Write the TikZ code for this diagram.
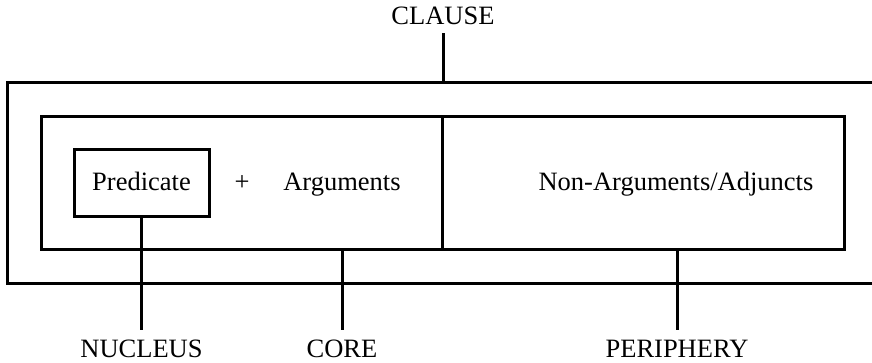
\documentclass[tikz,border=0pt]{standalone}
\usepackage{fontspec}
\setmainfont{Liberation Serif}
\begin{document}
\begin{tikzpicture}[x=1pt,y=-1pt,
  frame/.style={draw, line width=3pt, outer sep=0pt, inner sep=0pt},
  word/.style={font=\fontsize{26.5}{30}\selectfont, inner sep=0pt},
  level/.style={font=\fontsize{26.5}{30}\selectfont, inner sep=9pt},
  tie/.style={line width=3pt}]
\useasboundingbox (0,0) rectangle (872,362);

% nested boxes: clause, core + periphery, nucleus
\node[frame, minimum width=871pt, minimum height=201pt] (outer) at (442.5,182.5) {};
\node[frame, minimum width=803pt, minimum height=133pt] (inner) at (442.5,182.5) {};
\node[frame, minimum width=135pt, minimum height=67pt] (pred) at (141.5,182.5) {};
\draw[tie] (inner.north) -- (inner.south);

% texts inside the boxes
\node[word, anchor=base] (predtext) at (141.5,190) {Predicate};
\node[word, anchor=base] (plus) at (242,190) {+};
\node[word, anchor=base] (args) at (342,190) {Arguments};
\node[word, anchor=base] (nonargs) at (676,190) {Non-Arguments/Adjuncts};

% level labels
\node[level, anchor=base] (clause) at (443,24) {CLAUSE};
\node[level, anchor=base] (nucleus) at (141.5,357) {NUCLEUS};
\node[level, anchor=base] (core) at (342,357) {CORE};
\node[level, anchor=base] (periphery) at (677,357) {PERIPHERY};

% connectors from labels to their boxes
\draw[tie] (clause.south) -- (clause.south |- outer.north);
\draw[tie] (pred.south) -- (nucleus.north);
\draw[tie] (core.north |- inner.south) -- (core.north);
\draw[tie] (periphery.north |- inner.south) -- (periphery.north);
\end{tikzpicture}
\end{document}
